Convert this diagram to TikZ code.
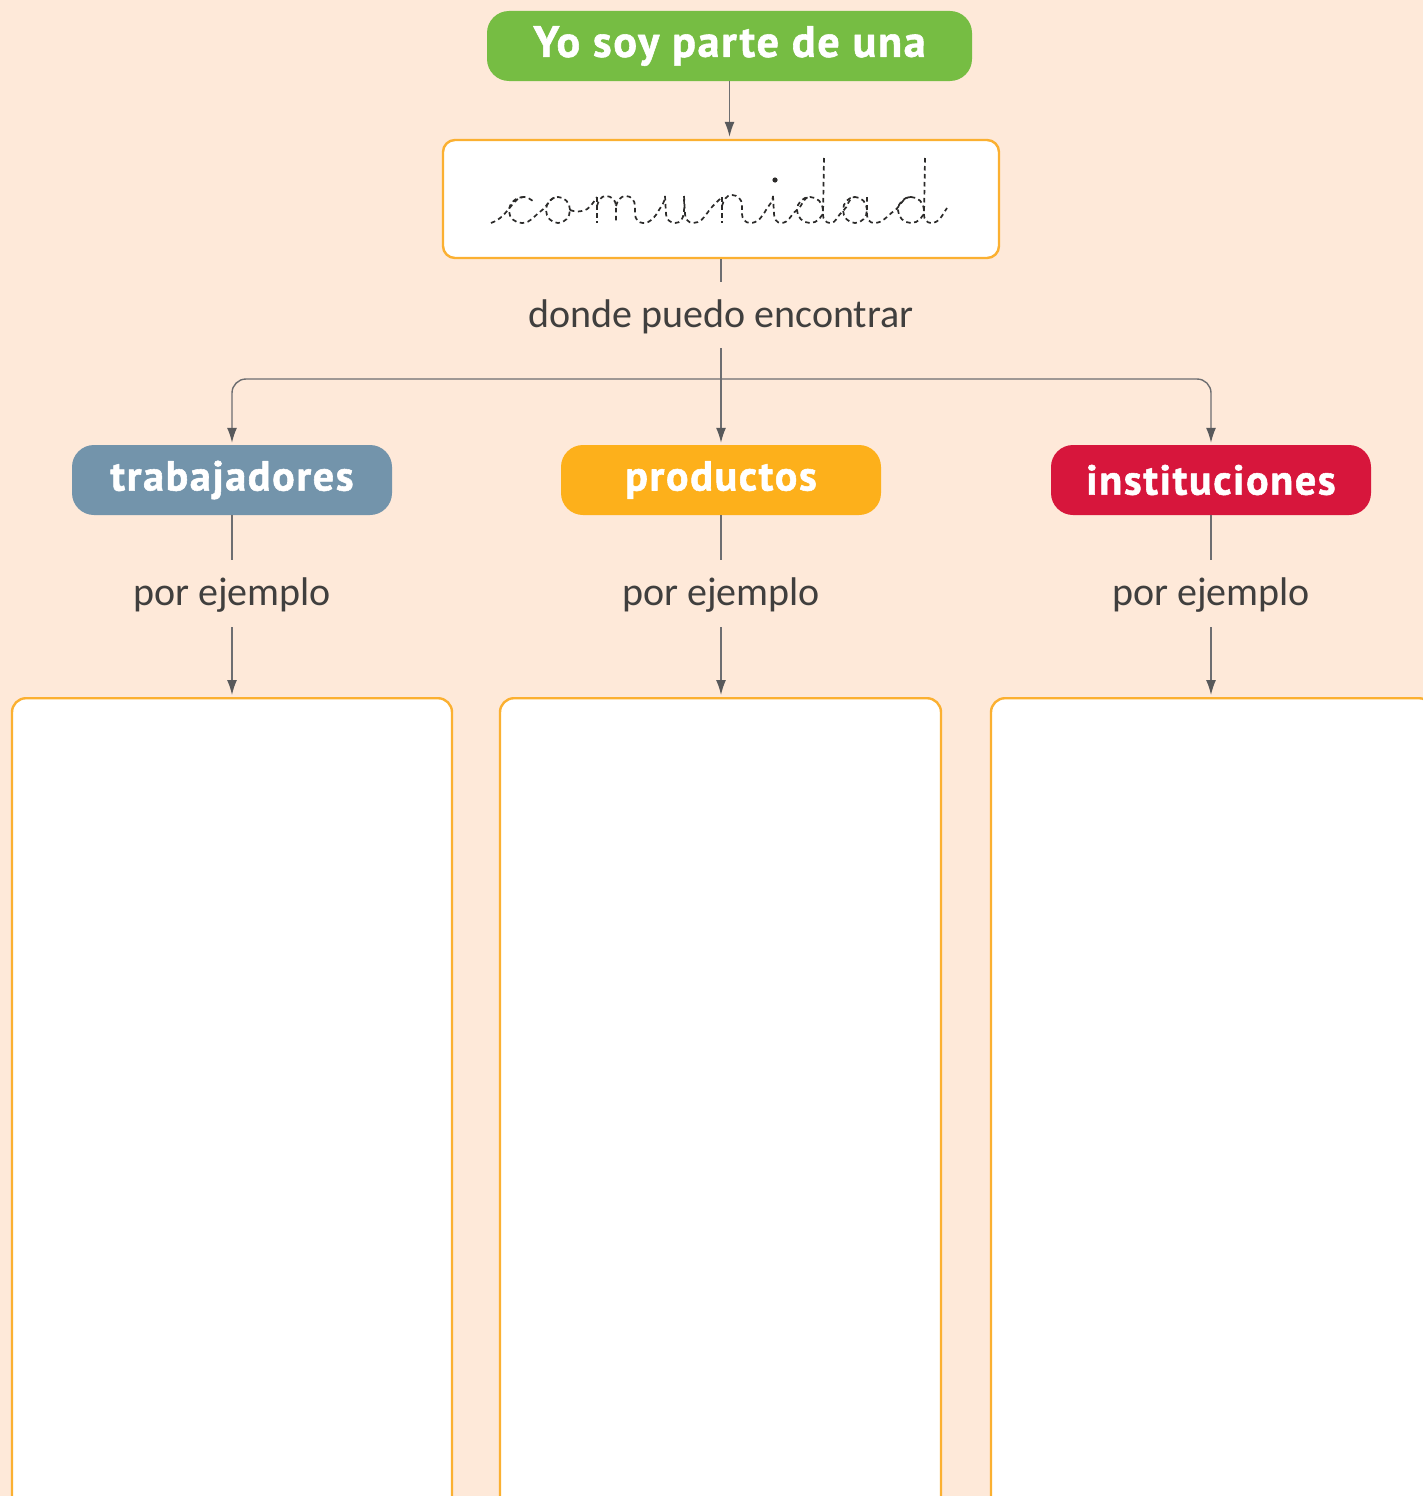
\documentclass[tikz,border=0pt]{standalone}
\usepackage{fontspec}
\setmainfont{PT Sans}
\newfontfamily\headfont{PT Sans}[BoldFeatures={FakeBold=1.3,LetterSpace=4}]
\newfontfamily\lightfont{Carlito}
\usetikzlibrary{arrows.meta,positioning}
\definecolor{CMpeach}{HTML}{FEE9D9}
\definecolor{CMgreen}{HTML}{76BD43}
\definecolor{CMslate}{HTML}{7394AB}
\definecolor{CMamber}{HTML}{FDB01B}
\definecolor{CMred}{HTML}{D7163C}
\definecolor{CMgold}{HTML}{FBB031}
\definecolor{CMline}{HTML}{6D6E71}
\definecolor{CMhead}{HTML}{58595B}
\definecolor{CMink}{HTML}{2B2A29}
\newcommand{\tracebowl}[3]{%
  \draw[trace] (#1,#2) ellipse [x radius=#3pt,y radius=13pt];}

\begin{document}
\begin{tikzpicture}[
  x=1pt,y=-1pt,
  line join=round,
  link/.style={draw=CMline,line width=1.4pt},
  flow/.style={link,-{Latex[length=15pt,width=10pt,color=CMhead]},shorten >=2pt},
  pill/.style={rounded corners=22pt,minimum width=320pt,minimum height=70pt,inner sep=0pt,
    text=white,font=\fontsize{42}{46}\selectfont\headfont\bfseries},
  card/.style={draw=CMgold,line width=2.4pt,fill=white,rounded corners=14pt,inner sep=0pt},
  caption/.style={font=\lightfont\fontsize{40}{44}\selectfont,text=CMink!90!white,inner sep=0pt,
    text height=24pt,text depth=0pt},
  trace/.style={draw=CMink,line width=1.7pt,dash pattern=on 4.5pt off 3.5pt}
]
\useasboundingbox (0,0) rectangle (1423,1496);
\fill[CMpeach] (0,0) rectangle (1423,1496);

% Top of the map
\node[pill,fill=CMgreen,minimum width=485pt,font=\fontsize{44}{48}\selectfont\headfont\bfseries]
  (title) at (729.5,46) {Yo soy parte de una};
\node[card,minimum width=556pt,minimum height=118pt,rounded corners=12pt] (word) at (721,199) {};
\node[caption,minimum height=66pt] (found) at (721,315) {donde puedo encontrar};

% Dashed word to trace over
\draw[trace] (491,223) to[out=20,in=230] (512,205) to[out=50,in=180] (524,197)
  to[out=0,in=150] (533,201);
\draw[trace] (524,197) to[out=180,in=90] (509,211) to[out=-90,in=180] (522,223)
  to[out=0,in=215] (541,211) to[out=35,in=180] (558,197);
\tracebowl{558}{210}{12}
\draw[trace] (570,210) to[out=-20,in=190] (582,211) to[out=10,in=235] (597,197);
\draw[trace] (597,197) -- (597,223);
\draw[trace] (597,206) to[out=75,in=180] (606,196) to[out=0,in=90] (616,206) -- (616,223);
\draw[trace] (616,206) to[out=75,in=180] (626,196) to[out=0,in=90] (635,206) -- (635,214)
  to[out=-90,in=180] (643,223) to[out=0,in=240] (659,210) to[out=60,in=-90] (665,196);
\draw[trace] (665,196) -- (666,214) to[out=-90,in=180] (675,223) to[out=0,in=-90] (684,196);
\draw[trace] (684,196) -- (685,214) to[out=-90,in=180] (693,223) to[out=0,in=235] (708,212)
  to[out=55,in=225] (722,197);
\draw[trace] (722,197) -- (722,223);
\draw[trace] (722,206) to[out=75,in=180] (732,195) to[out=0,in=90] (742,205) -- (742,214)
  to[out=-90,in=180] (750,223) to[out=0,in=240] (766,210) to[out=60,in=-90] (773,196);
\draw[trace] (773,196) -- (774,214) to[out=-90,in=180] (781,223) to[out=0,in=215] (797,210)
  to[out=35,in=180] (810,197);
\fill[CMink] (775,180) circle (2.6pt);
\tracebowl{810}{210}{13}
\draw[trace] (824,158) -- (823,215) to[out=-90,in=180] (830,223) to[out=0,in=215] (843,211)
  to[out=35,in=180] (855,197);
\tracebowl{855}{210}{12}
\draw[trace] (867,197) -- (867,215) to[out=-90,in=180] (874,223) to[out=0,in=215] (894,211)
  to[out=35,in=180] (911,197);
\tracebowl{911}{210}{13}
\draw[trace] (925,158) -- (924,215) to[out=-90,in=180] (931,223) to[out=0,in=235] (947,208);

% Three categories
\node[pill,fill=CMslate] (trab) at (232,480) {trabajadores};
\node[pill,fill=CMamber] (prod) at (721,480) {productos};
\node[pill,fill=CMred] (inst) at (1211,480) {instituciones};

\node[caption,minimum height=67pt] (extrab) at (232,593.5) {por ejemplo};
\node[caption,minimum height=67pt] (exprod) at (721,593.5) {por ejemplo};
\node[caption,minimum height=67pt] (exinst) at (1211,593.5) {por ejemplo};

% Empty boxes run past the lower edge
\node[card,anchor=north,minimum width=440pt,minimum height=820pt] (slottrab) at (232,697) {};
\node[card,anchor=north,minimum width=441pt,minimum height=820pt] (slotprod) at (720.5,697) {};
\node[card,anchor=north,minimum width=442pt,minimum height=820pt] (slotinst) at (1212,697) {};

\draw[flow] (title.south) -- (title.south |- word.north);
\draw[link] (word.south) -- (found.north);
\coordinate (bus) at (721,379);
\draw[flow] (found.south) -- (prod.north);
\draw[flow,rounded corners=14pt] (bus) -| (trab.north);
\draw[flow,rounded corners=14pt] (bus) -| (inst.north);

\foreach \cat/\ex/\slot in {trab/extrab/slottrab,prod/exprod/slotprod,inst/exinst/slotinst}{
  \draw[link] (\cat.south) -- (\ex.north);
  \draw[flow] (\ex.south) -- (\ex.south |- \slot.north);
}
\end{tikzpicture}
\end{document}
